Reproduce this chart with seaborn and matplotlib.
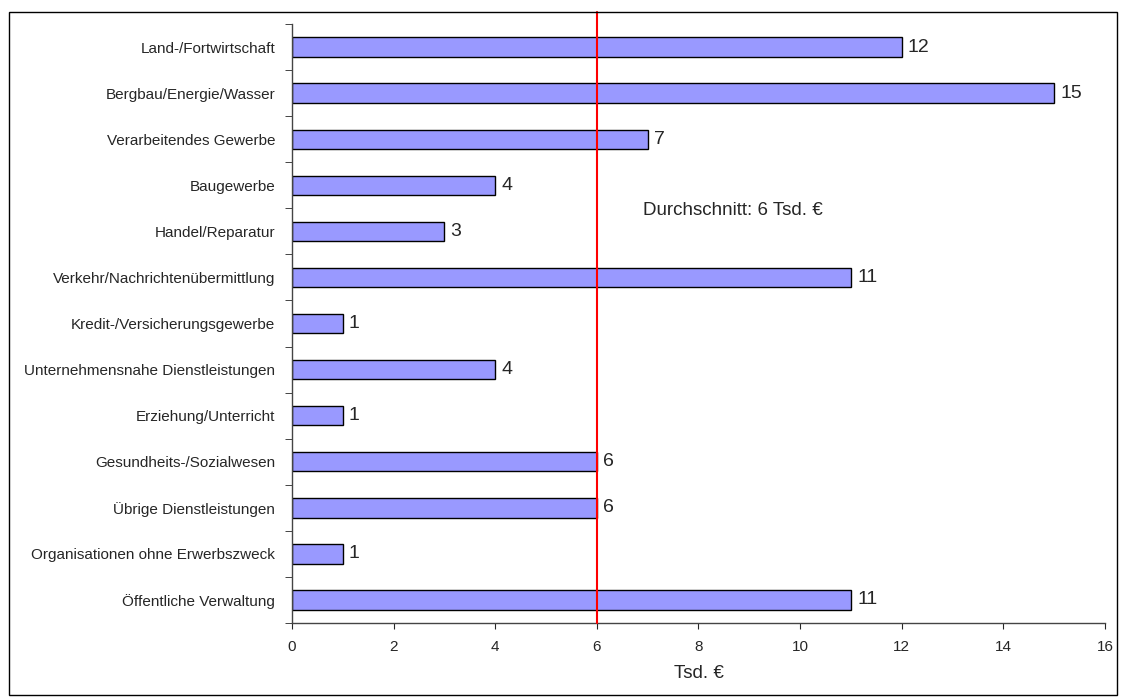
import pandas as pd
import matplotlib.pyplot as plt
import matplotlib.patches as patches
from matplotlib.ticker import FixedLocator, NullFormatter
import seaborn as sns

# Data
categories = ['Land-/Fortwirtschaft', 'Bergbau/Energie/Wasser', 'Verarbeitendes Gewerbe',
              'Baugewerbe', 'Handel/Reparatur', 'Verkehr/Nachrichtenübermittlung',
              'Kredit-/Versicherungsgewerbe', 'Unternehmensnahe Dienstleistungen',
              'Erziehung/Unterricht', 'Gesundheits-/Sozialwesen', 'Übrige Dienstleistungen',
              'Organisationen ohne Erwerbszweck', 'Öffentliche Verwaltung']
values = [12, 15, 7, 4, 3, 11, 1, 4, 1, 6, 6, 1, 11]
average = 6
x_ticks = [0, 2, 4, 6, 8, 10, 12, 14, 16]

df = pd.DataFrame({'Branche': categories, 'Wert': values})

sns.set_style('white')
plt.rcParams['font.family'] = ['Liberation Sans', 'DejaVu Sans']

fig = plt.figure(figsize=(11.21, 6.98), dpi=100)
ax = fig.add_axes([0.2605, 0.1074, 0.7252, 0.8582])

sns.barplot(data=df, x='Wert', y='Branche', orient='h', color='#9999FF',
            saturation=1, edgecolor='black', linewidth=1, width=0.42, ax=ax)

# value labels next to each bar
for i, v in enumerate(values):
    ax.text(v + 0.12, i, str(v), va='center', ha='left', fontsize=14)

# average line
ax.axvline(average, ymin=0, ymax=1.02, color='#FF0000', linewidth=1.5, clip_on=False, zorder=5)
ax.text(6.9, 3.55, 'Durchschnitt: 6 Tsd. €', fontsize=13.5, va='center', ha='left')

ax.set_xlim(0, 16)
ax.set_ylim(len(categories) - 0.5, -0.5)
ax.set_xticks(x_ticks)
ax.set_xlabel('Tsd. €', fontsize=13.5, labelpad=8)
ax.set_ylabel('')
ax.tick_params(axis='x', labelsize=11, length=4, direction='out', bottom=True, pad=8)
ax.tick_params(axis='y', which='major', labelsize=11, length=0, pad=12)
ax.yaxis.set_minor_locator(FixedLocator([i - 0.5 for i in range(len(categories) + 1)]))
ax.yaxis.set_minor_formatter(NullFormatter())
ax.tick_params(axis='y', which='minor', length=5, left=True, direction='out')

for side in ['top', 'right']:
    ax.spines[side].set_visible(False)
for side in ['left', 'bottom']:
    ax.spines[side].set_color('#444444')
    ax.spines[side].set_linewidth(1)
ax.grid(False)

# frame around the whole chart
fig.patches.append(patches.Rectangle((9 / 1121, 3 / 698), 1108 / 1121, 683 / 698,
                                     transform=fig.transFigure, fill=False,
                                     edgecolor='black', linewidth=1))

fig.savefig('out.png', dpi=100)
